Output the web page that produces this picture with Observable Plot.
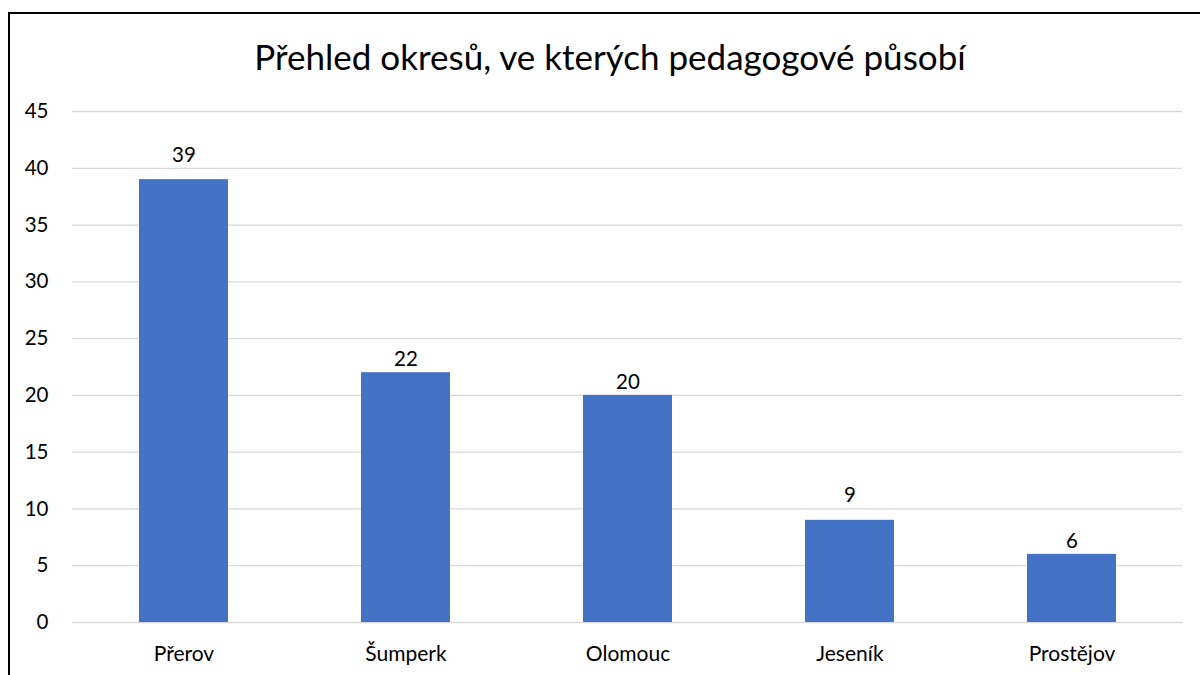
<!DOCTYPE html>
<html>
<head>
<meta charset="utf-8">
<script src="https://cdn.jsdelivr.net/npm/d3@7"></script>
<script src="https://cdn.jsdelivr.net/npm/@observablehq/plot@0.6"></script>
<style>
  html, body { margin: 0; padding: 0; background: #fff; width: 1200px; height: 675px; overflow: hidden; }
  #frame { position: absolute; left: 8px; top: 12px; width: 1300px; height: 800px;
           border-left: 2px solid #000; border-top: 2px solid #000; }
  #title { position: absolute; left: 0; top: 34px; width: 1220px; text-align: center;
           font-family: Lato, "Noto Sans", sans-serif; font-size: 35px; color: #000; line-height: 44px; }
  #chart { position: absolute; left: 0; top: 90px; }
</style>
</head>
<body>
<div id="frame"></div>
<div id="title">Přehled okresů, ve kterých pedagogové působí</div>
<div id="chart"></div>
<script>
const districts = ["Přerov", "Šumperk", "Olomouc", "Jeseník", "Prostějov"];
const counts = [39, 22, 20, 9, 6];
const yTicks = [0, 5, 10, 15, 20, 25, 30, 35, 40, 45];

const data = districts.map((d, i) => ({district: d, count: counts[i]}));

// label anchor: lift above a gridline when the label would collide with it
const labelAnchor = d => {
  const next = Math.ceil(d.count / 5) * 5;
  return (next !== d.count && next - d.count < 1.5) ? next : d.count;
};

const plot = Plot.plot({
  width: 1200,
  height: 585,
  marginLeft: 72,
  marginRight: 18,
  marginTop: 21,
  marginBottom: 53,
  style: {fontFamily: "Lato, 'Noto Sans', sans-serif", fontSize: "21px", color: "#000", background: "transparent"},
  x: {domain: districts, paddingInner: 0.6, paddingOuter: 0.3, label: null},
  y: {domain: [0, 45], label: null},
  marks: [
    Plot.ruleY(yTicks, {stroke: "#d9d9d9", strokeWidth: 1.3}),
    Plot.barY(data, {x: "district", y: "count", fill: "#4472C4"}),
    Plot.text(data, {x: "district", y: labelAnchor, text: d => String(d.count), lineAnchor: "bottom", dy: -6.5, fill: "#000", fontSize: 20.5}),
    Plot.axisX({tickSize: 0, tickPadding: 24, fontSize: 21}),
    Plot.axisY({ticks: yTicks, tickSize: 0, tickPadding: 24, fontSize: 20.5})
  ]
});
document.getElementById("chart").appendChild(plot);
</script>
</body>
</html>
